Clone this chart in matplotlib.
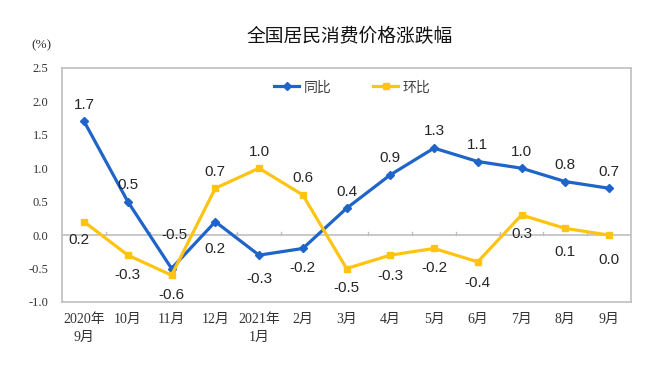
import matplotlib.pyplot as plt
import numpy as np

plt.rcParams['font.family'] = ['Liberation Serif', 'Noto Sans CJK SC']

months = ['2020年\n9月', '10月', '11月', '12月', '2021年\n1月', '2月', '3月',
          '4月', '5月', '6月', '7月', '8月', '9月']
yoy = [1.7, 0.5, -0.5, 0.2, -0.3, -0.2, 0.4, 0.9, 1.3, 1.1, 1.0, 0.8, 0.7]
mom = [0.2, -0.3, -0.6, 0.7, 1.0, 0.6, -0.5, -0.3, -0.2, -0.4, 0.3, 0.1, 0.0]
# label above (+1) or below (-1) each point
yoy_side = [1, 1, 1, -1, -1, -1, 1, 1, 1, 1, 1, 1, 1]
mom_side = [-1, -1, -1, 1, 1, 1, -1, -1, -1, -1, -1, -1, -1]

blue = '#1F64C8'
yellow = '#FFC411'

fig = plt.figure(figsize=(6.69, 3.77), dpi=100)
ax = fig.add_axes([0.093, 0.199, 0.850, 0.621])

x = np.arange(len(months))
ax.plot(x, yoy, color=blue, lw=2.3, marker='D', ms=4.5, label='同比', zorder=3)
ax.plot(x, mom, color=yellow, lw=2.3, marker='s', ms=4.5, label='环比', zorder=3)

# zero line with small ticks at category boundaries
ax.axhline(0, color='#BFBFBF', lw=1.2, zorder=1)
for b in x[:-1] + 0.5:
    ax.plot([b, b], [0, 0.05], color='#BFBFBF', lw=1, zorder=1)

# a few labels sit further from their points
nudge_yoy = {2: (2, 24), 3: (0, -20), 4: (0, -17)}
nudge_mom = {0: (-4, -13), 7: (0, -15), 9: (0, -15), 11: (0, -17), 12: (0, -18)}


def label(xs, vals, sides, nudge):
    for i, (xi, v, s) in enumerate(zip(xs, vals, sides)):
        off = nudge.get(i, (0, 12 * s if s > 0 else 14 * s))
        ax.annotate(f'{v:.1f}', (xi, v), xytext=off, textcoords='offset points',
                    ha='center', va='center', fontsize=11, family='Liberation Sans',
                    color='#262626')


label(x, yoy, yoy_side, nudge_yoy)
label(x, mom, mom_side, nudge_mom)

ax.set_xlim(-0.5, 12.5)
ax.set_ylim(-1.0, 2.5)
ticks = np.arange(-1.0, 2.51, 0.5)
ax.set_yticks(ticks)
ax.set_yticklabels([f'{t:.1f}' for t in ticks], fontsize=9)
ax.set_xticks(x)
ax.set_xticklabels(months, fontsize=10, linespacing=1.5)
ax.tick_params(axis='both', length=0, colors='#333333')
ax.tick_params(axis='y', pad=10)
ax.tick_params(axis='x', pad=8)
for sp in ax.spines.values():
    sp.set_color('#BFBFBF')
    sp.set_linewidth(1.2)

leg = ax.legend(loc='upper center', bbox_to_anchor=(0.51, 1.0), ncol=2, frameon=False,
                handlelength=1.8, handletextpad=0.3, columnspacing=3.0,
                prop={'family': 'Noto Sans CJK SC', 'size': 10})
for t in leg.get_texts():
    t.set_color('#404040')

fig.text(0.523, 0.903, '全国居民消费价格涨跌幅', ha='center', va='center',
         fontsize=13.5, family='Noto Sans CJK SC', color='#111111')
fig.text(0.062, 0.88, '(%)', ha='center', va='center', fontsize=9.5, color='#333333')

fig.savefig('out.png', dpi=100)
